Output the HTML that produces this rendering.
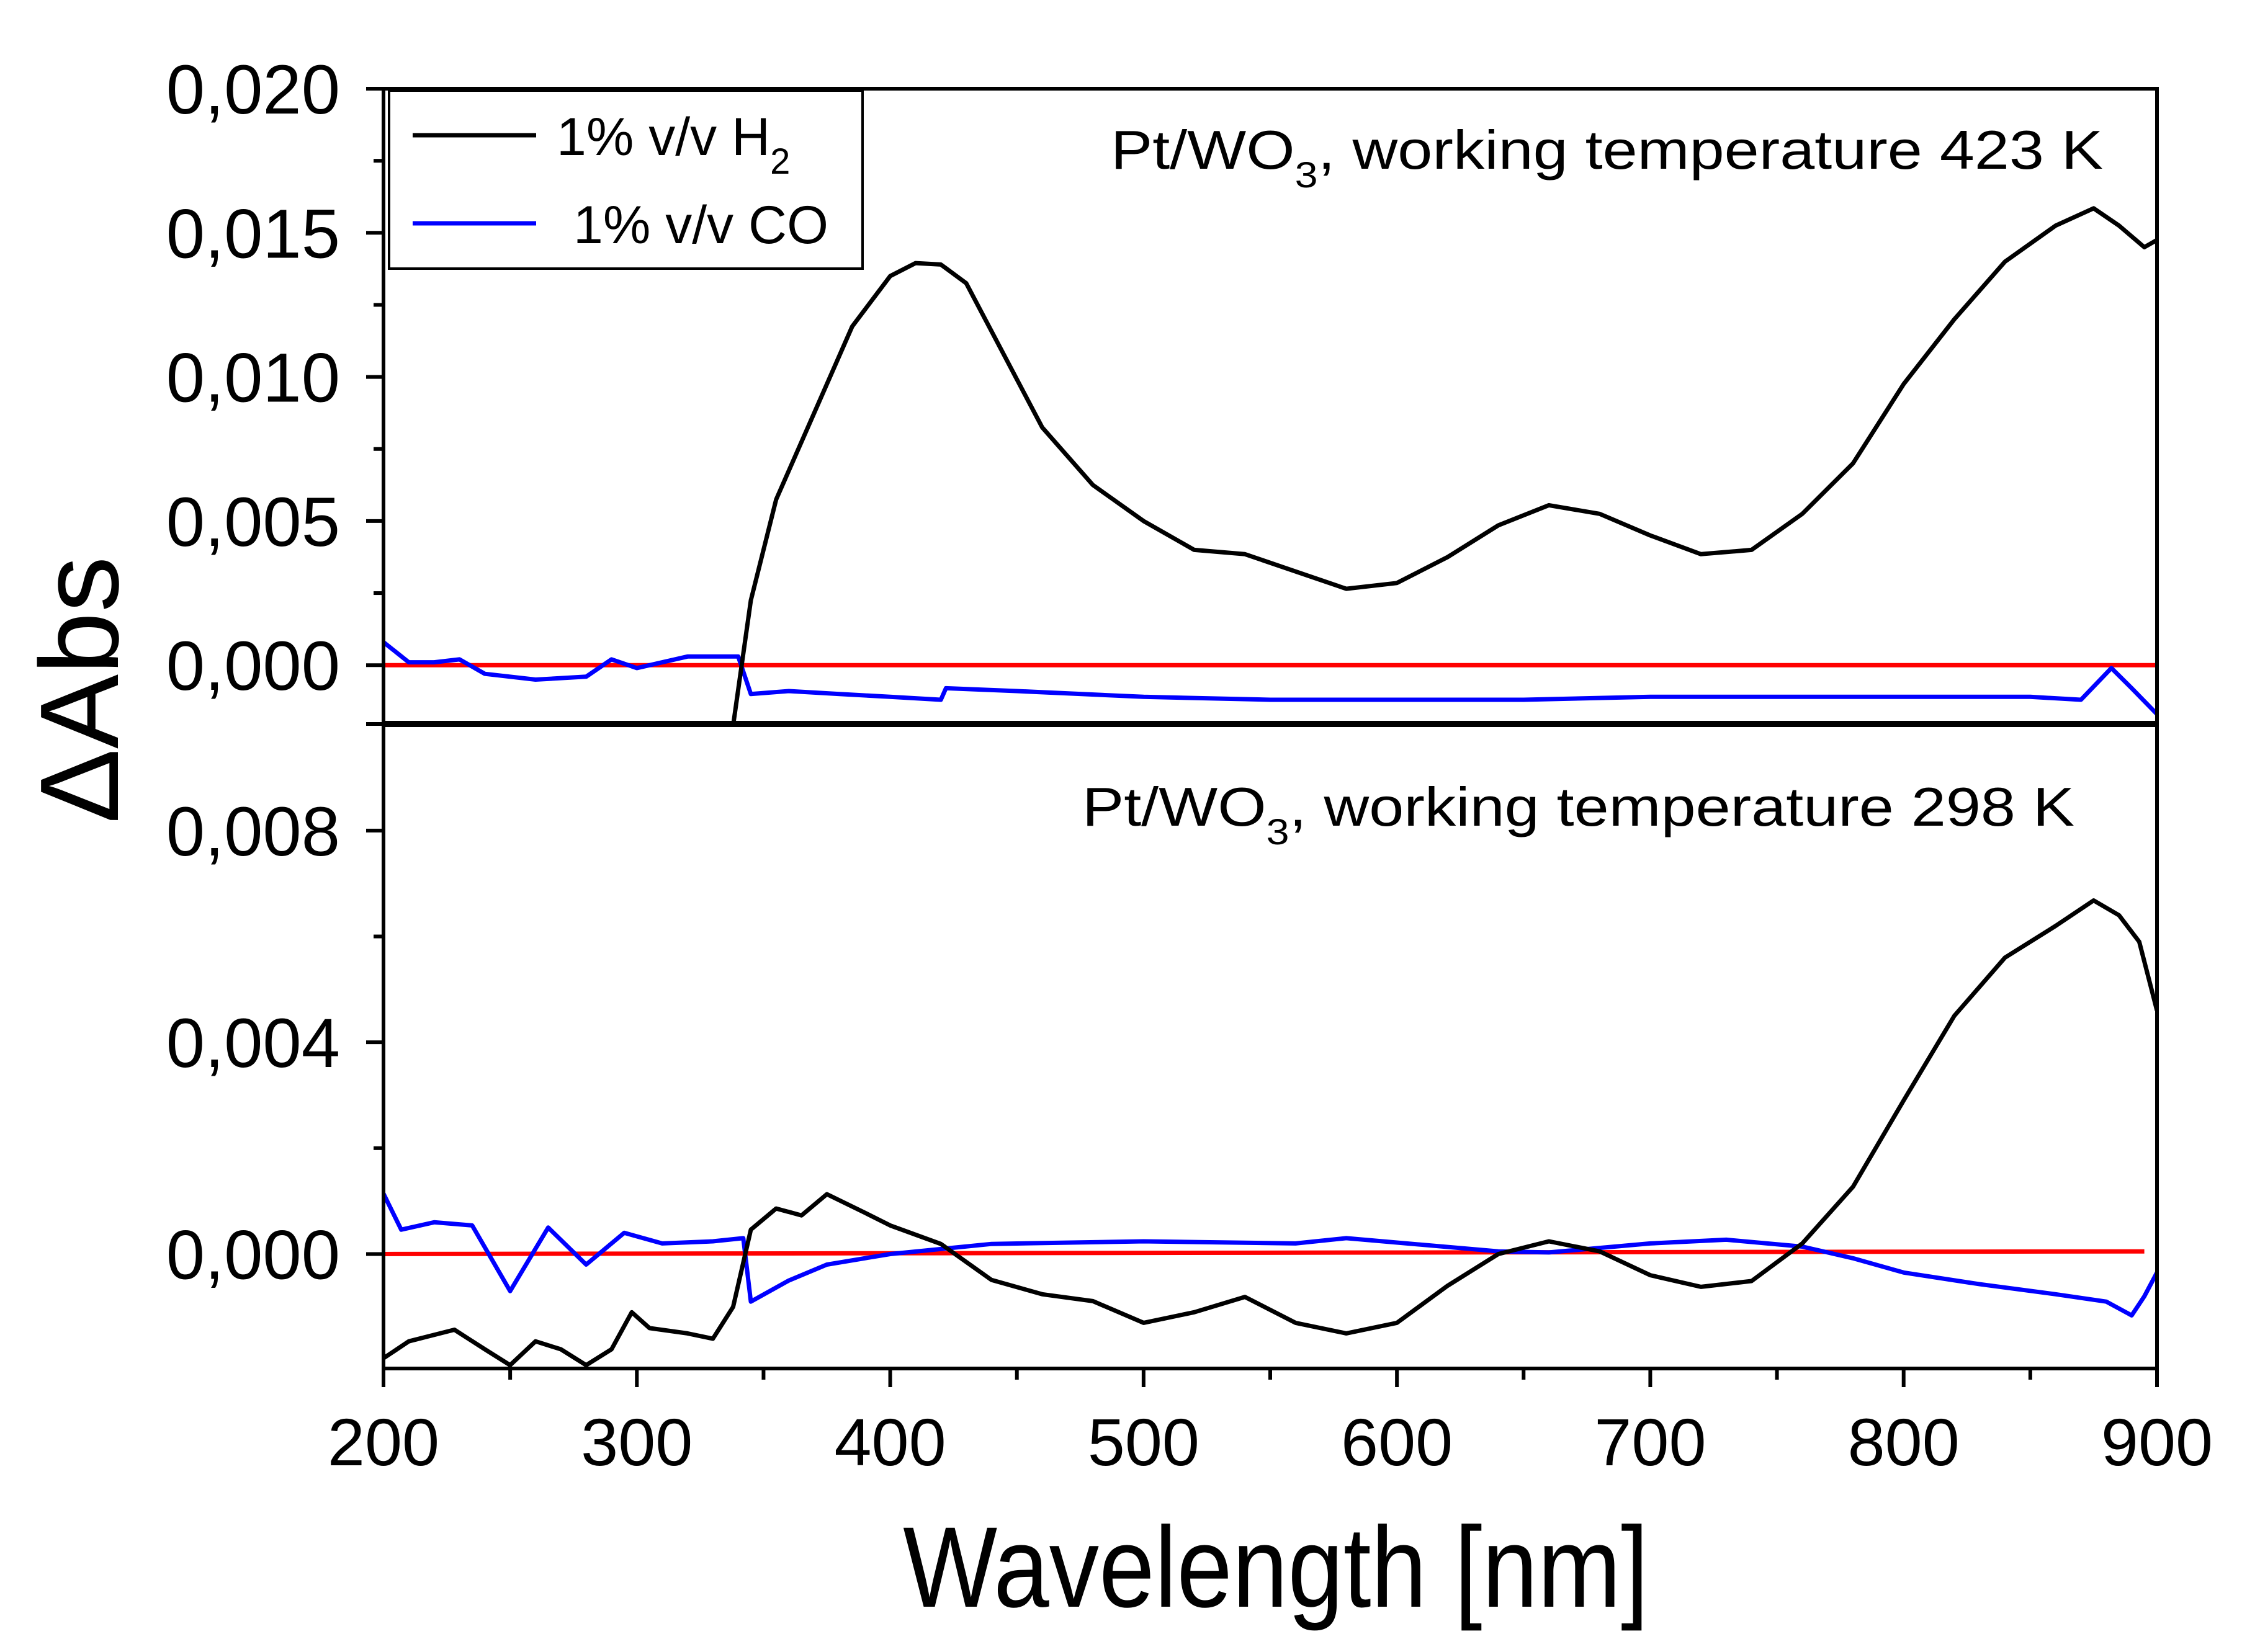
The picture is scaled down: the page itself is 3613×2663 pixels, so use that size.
<!DOCTYPE html>
<html><head><meta charset="utf-8"><style>
html,body{margin:0;padding:0;background:#fff;}
svg{display:block;font-family:"Liberation Sans",Arial,sans-serif;}
</style></head><body>
<svg id="chart" width="3613" height="2663" viewBox="0 0 3613 2663" xmlns="http://www.w3.org/2000/svg">
<g id="plots"></g>
<g id="axes"></g>
<text transform="translate(190,1112) rotate(-90)" text-anchor="middle" font-size="180">ΔAbs</text>
<text transform="translate(2056,2590) scale(0.87,1)" text-anchor="middle" font-size="185">Wavelength [nm]</text>
<g>
<rect x="627" y="146" width="763" height="287" fill="#fff" stroke="#000" stroke-width="4"/>
<line x1="665" y1="218" x2="864" y2="218" stroke="#000" stroke-width="7"/>
<text x="897" y="250" font-size="86">1% v/v H<tspan font-size="58" dy="30">2</tspan></text>
<line x1="665" y1="360" x2="864" y2="360" stroke="#0000ff" stroke-width="7"/>
<text x="924" y="392" font-size="86">1% v/v CO</text>
</g>
<text transform="translate(1790,272) scale(1.145,1)" font-size="88">Pt/WO<tspan font-size="58" dy="30">3</tspan><tspan dy="-30">, working temperature 423 K</tspan></text>
<text transform="translate(1744,1331) scale(1.145,1)" font-size="88">Pt/WO<tspan font-size="58" dy="30">3</tspan><tspan dy="-30">, working temperature 298 K</tspan></text>
</svg>
<script>
// ---- data ----
const topH2X = [338,345,355,370,385,400,410,420,430,445,460,480,500,520,540,560,580,600,620,640,660,680,700,720,740,760,780,800,820,840,860,875,885,895,900];
const topH2Y = [-0.0021,0.00225,0.00575,0.00875,0.01175,0.0135,0.01395,0.0139,0.01325,0.01075,0.00825,0.00625,0.005,0.004,0.00385,0.00325,0.00265,0.00285,0.00375,0.00485,0.00555,0.00525,0.0045,0.00385,0.004,0.00525,0.007,0.00975,0.012,0.014,0.01525,0.01585,0.01525,0.0145,0.01475];
const topCOX = [200,210,220,230,240,260,280,290,300,320,335,340,345,360,380,400,420,422,450,500,550,600,650,700,750,800,850,870,882,890,900];
const topCOY = [0.0008,0.0001,0.0001,0.0002,-0.0003,-0.0005,-0.0004,0.0002,-0.0001,0.0003,0.0003,0.0003,-0.001,-0.0009,-0.001,-0.0011,-0.0012,-0.0008,-0.0009,-0.0011,-0.0012,-0.0012,-0.0012,-0.0011,-0.0011,-0.0011,-0.0011,-0.0012,-0.0001,-0.0008,-0.0017];
const botH2X = [200,210,228,240,250,260,270,280,290,298,305,320,330,338,345,355,365,375,390,400,420,440,460,480,500,520,540,560,580,600,620,640,660,680,700,720,740,760,780,800,820,840,860,875,885,893,900];
const botH2Y = [-0.00197,-0.00165,-0.00143,-0.0018,-0.0021,-0.00165,-0.0018,-0.0021,-0.0018,-0.0011,-0.0014,-0.0015,-0.0016,-0.001,0.00046,0.00086,0.00073,0.00113,0.00078,0.00054,0.00019,-0.00049,-0.00076,-0.00089,-0.0013,-0.0011,-0.00081,-0.0013,-0.0015,-0.0013,-0.0006,0,0.00024,0.00005,-0.0004,-0.00062,-0.00051,0.0002,0.00127,0.0029,0.0045,0.0056,0.0062,0.00668,0.0064,0.0059,0.0046];
const botCOX = [200,207,220,235,250,265,280,295,310,330,342,345,360,375,400,440,500,560,580,640,660,700,730,760,780,800,830,860,880,890,895,900];
const botCOY = [0.00114,0.00046,0.0006,0.00054,-0.0007,0.0005,-0.0002,0.0004,0.0002,0.00024,0.0003,-0.0009,-0.0005,-0.0002,0,0.00019,0.00024,0.0002,0.0003,0.00005,0.00003,0.0002,0.00027,0.00014,-0.00008,-0.00035,-0.00057,-0.00076,-0.0009,-0.00116,-0.0008,-0.00035];
const xTicks = [200,300,400,500,600,700,800,900];
const topYTicks = [0,0.005,0.010,0.015,0.020];
const topYLabels = ["0,000","0,005","0,010","0,015","0,020"];
const botYTicks = [0,0.004,0.008];
const botYLabels = ["0,000","0,004","0,008"];

const NS="http://www.w3.org/2000/svg";
const X0=618,X1=3476;
const sx=v=>X0+(v-200)/700*(X1-X0);
const T={top:143,bot:1167,ymin:-0.00204,ymax:0.020};
const B={top:1167,bot:2206,ymin:-0.002163,ymax:0.010015};
const syT=v=>T.bot-(v-T.ymin)/(T.ymax-T.ymin)*(T.bot-T.top);
const syB=v=>B.bot-(v-B.ymin)/(B.ymax-B.ymin)*(B.bot-B.top);
const plots=document.getElementById('plots'),axes=document.getElementById('axes');
function mk(tag,at,parent){const e=document.createElementNS(NS,tag);for(const k in at)e.setAttribute(k,at[k]);parent.appendChild(e);return e;}
const defs=mk('defs',{},plots);
const c1=mk('clipPath',{id:'clipT'},defs);mk('rect',{x:X0,y:T.top,width:X1-X0,height:T.bot-T.top},c1);
const c2=mk('clipPath',{id:'clipB'},defs);mk('rect',{x:X0,y:B.top,width:X1-X0,height:B.bot-B.top},c2);
function series(xs,ys,sy,color,clip,name){
  const d=xs.map((x,i)=>(i?'L':'M')+sx(x).toFixed(1)+','+sy(ys[i]).toFixed(1)).join('');
  const p=mk('path',{d:d,fill:'none',stroke:color,'stroke-width':7,'stroke-linejoin':'round','clip-path':'url(#'+clip+')'},plots);
  
  
}
const r1=mk('line',{x1:sx(200),x2:sx(900),y1:syT(0),y2:syT(0),stroke:'#ff0000','stroke-width':7},plots);


const r2=mk('line',{x1:sx(200),x2:sx(895),y1:syB(0),y2:syB(0.00005),stroke:'#ff0000','stroke-width':7},plots);


series(topCOX,topCOY,syT,'#0000ff','clipT','co-series-423k');
series(topH2X,topH2Y,syT,'#000','clipT','h2-series-423k');
series(botCOX,botCOY,syB,'#0000ff','clipB','co-series-298k');
series(botH2X,botH2Y,syB,'#000','clipB','h2-series-298k');
const fr=mk('rect',{x:X0,y:T.top,width:X1-X0,height:B.bot-T.top,fill:'none',stroke:'#000','stroke-width':6},axes);


const dv=mk('line',{x1:X0,x2:X1,y1:T.bot,y2:T.bot,stroke:'#000','stroke-width':10},axes);


function yTicks(ticks,labels,sy,minors,name){
  ticks.forEach((v,i)=>{
    const y=sy(v);
    const t=mk('line',{x1:X0-28,x2:X0,y1:y,y2:y,stroke:'#000','stroke-width':6},axes);
    
    
    const l=mk('text',{x:548,y:y+40,'text-anchor':'end','font-size':112},axes);
    l.textContent=labels[i];
    
    
  });
  minors.forEach(v=>{
    const y=sy(v);
    const t=mk('line',{x1:X0-16,x2:X0,y1:y,y2:y,stroke:'#000','stroke-width':6},axes);
    
    
  });
}
yTicks(topYTicks,topYLabels,syT,[0.0025,0.0075,0.0125,0.0175],'y-axis-top');
yTicks(botYTicks,botYLabels,syB,[0.002,0.006],'y-axis-bottom');
mk('line',{x1:X0-28,x2:X0,y1:T.bot,y2:T.bot,stroke:'#000','stroke-width':6},axes);
xTicks.forEach(v=>{
  const x=sx(v);
  const t=mk('line',{x1:x,x2:x,y1:B.bot,y2:B.bot+30,stroke:'#000','stroke-width':6},axes);
  
  
  const l=mk('text',{x:x,y:2362,'text-anchor':'middle','font-size':108},axes);
  l.textContent=String(v);
  
  
  if(v<900){const m=mk('line',{x1:sx(v+50),x2:sx(v+50),y1:B.bot,y2:B.bot+18,stroke:'#000','stroke-width':6},axes);
  
  }
});
</script>
</body></html>
